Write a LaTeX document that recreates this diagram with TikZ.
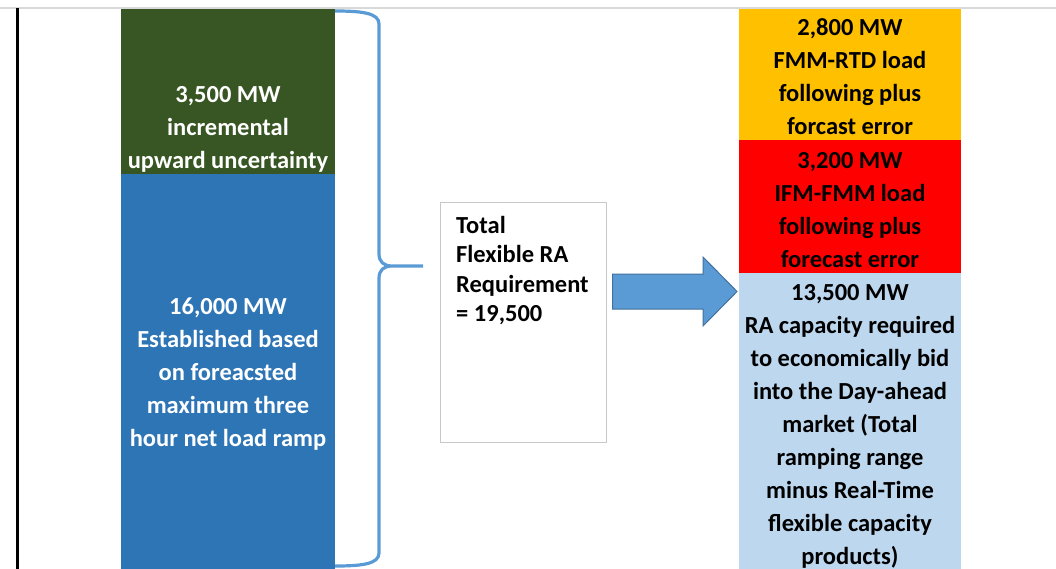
\documentclass[tikz,border=0pt]{standalone}
\usepackage{fontspec}
\setmainfont{Carlito}
\definecolor{upgreen}{RGB}{56, 86, 35}
\definecolor{rampblue}{RGB}{46, 117, 182}
\definecolor{rtdorange}{RGB}{255, 192, 0}
\definecolor{fmmred}{RGB}{255, 0, 0}
\definecolor{dablue}{RGB}{189, 215, 238}
\definecolor{bracblue}{RGB}{91, 155, 213}
\definecolor{arrowedge}{RGB}{65, 113, 156}
\definecolor{framegray}{RGB}{200, 200, 200}
\definecolor{rulegray}{RGB}{217, 217, 217}
\usetikzlibrary{positioning, calc}
\tikzset{
  segbox/.style={inner sep=0pt, outer sep=0pt, draw=none},
  segtext/.style={font=\fontsize{24.5}{33}\selectfont\bfseries, align=center, inner sep=0pt}
}

\begin{document}
\begin{tikzpicture}[x=1pt, y=-1pt]
  \useasboundingbox (0,0) rectangle (1056,569);

  % Frame lines
  \draw[rulegray, line width=1.5pt] (0,8) -- (1056,8);
  \draw[black, line width=3pt] (17,8) -- (17,569);

  % Left column
  \node[segbox, fill=upgreen, minimum width=214pt, minimum height=165pt] (upbox) at (228, 91.5) {};
  \node[segbox, fill=rampblue, minimum width=214pt, minimum height=395pt] (rampbox) at (228, 371.5) {};
  \node[segtext, text=white] (uptext) at (228, 129) {3,500 MW\\incremental\\upward uncertainty};
  \node[segtext, text=white] (ramptext) at (228, 374.5) {16,000 MW\\Established based\\on foreacsted\\maximum three\\hour net load ramp};

  % Brace
  \coordinate (bracetip) at (423, 266);
  \draw[bracblue, line width=3.2pt, line join=round]
    ($(upbox.north east)+(0,2)$) .. controls (362,11) and (379,13) .. (379,24) -- (379,254)
    .. controls (379,262) and (384,266) .. (392,266) -- (bracetip)
    (392,266) .. controls (384,266) and (379,270) .. (379,278) -- (379,553)
    .. controls (379,564) and (362,566) .. (335,566);

  % Total requirement
  \node[draw=framegray, line width=1pt, fill=white, minimum width=166pt, minimum height=239pt, inner sep=0pt] (totalbox) at (523, 322.5) {};
  \node[font=\fontsize{24.5}{29.5}\selectfont\bfseries, align=left, anchor=west, inner sep=0pt] (totaltext) at (456, 270.5) {Total\\Flexible RA\\Requirement\\= 19,500};

  % Arrow
  \draw[fill=bracblue, draw=arrowedge, line width=1pt]
    ($(totalbox.east)+(6,-48.5)$) -- (703,274) -- (703,257) -- (737,291.5)
    -- (703,326) -- (703,309) -- ($(totalbox.east)+(6,-13.5)$) -- cycle;

  % Right column
  \node[segbox, fill=rtdorange, minimum width=222pt, minimum height=131pt] (rtdbox) at (850, 74.5) {};
  \node[segbox, fill=fmmred, minimum width=222pt, minimum height=133pt] (fmmbox) at (850, 206.5) {};
  \node[segbox, fill=dablue, minimum width=222pt, minimum height=296pt] (dabox) at (850, 421) {};
  \node[segtext] (rtdtext) at (850, 77) {2,800 MW\\FMM-RTD load\\following plus\\forcast error};
  \node[segtext] (fmmtext) at (850, 210) {3,200 MW\\IFM-FMM load\\following plus\\forecast error};
  \node[segtext] (datext) at (850, 426) {13,500 MW\\RA capacity required\\to economically bid\\into the Day-ahead\\market (Total\\ramping range\\minus Real-Time\\flexible capacity\\products)};
\end{tikzpicture}
\end{document}
